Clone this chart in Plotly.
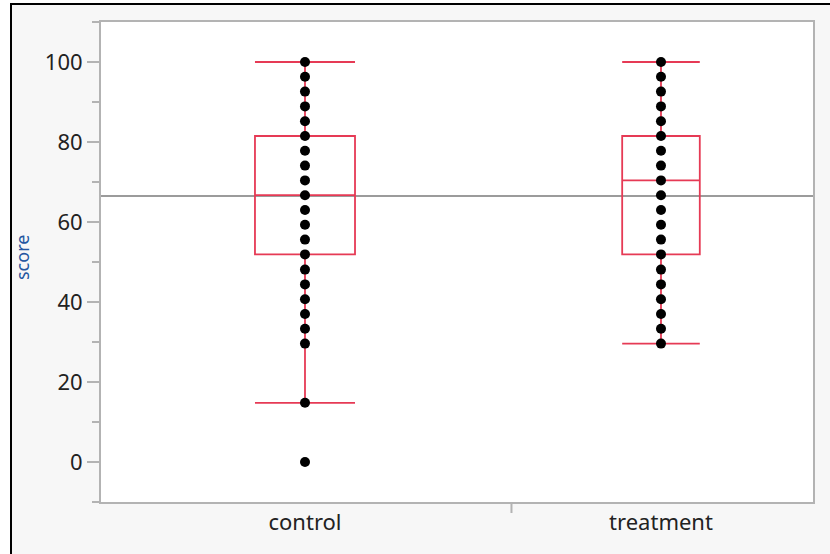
import plotly.graph_objects as go

# ---- data ----
categories = ["control", "treatment"]
control_scores = [100, 96.3, 92.6, 88.9, 85.2, 81.5, 77.8, 74.1, 70.4, 66.7, 63.0,
                  59.3, 55.6, 51.9, 48.1, 44.4, 40.7, 37.0, 33.3, 29.6, 14.8, 0]
treatment_scores = [100, 96.3, 92.6, 88.9, 85.2, 81.5, 77.8, 74.1, 70.4, 66.7, 63.0,
                    59.3, 55.6, 51.9, 48.1, 44.4, 40.7, 37.0, 33.3, 29.6]
q1_vals = [51.9, 51.9]
median_vals = [66.7, 70.4]
q3_vals = [81.5, 81.5]
lower_whisker = [14.8, 29.6]
upper_whisker = [100, 100]
grand_mean = 66.5
y_tick_vals = [0, 20, 40, 60, 80, 100]
y_title = "score"

# ---- layout constants ----
W, H = 830, 554
ML, MR, MT, MB = 101, 17, 22, 52
PW, PH = W - ML - MR, H - MT - MB
box_widths = [0.281, 0.218]
x_range = [-0.573, 1.427]
divider_x = 0.58
RED = "#e63a55"
AXIS_GRAY = "#b3b3b3"
FONT = "Noto Sans"


def px_x(p):
    return (p - ML) / PW


def px_y(p):
    return (H - MB - p) / PH


fig = go.Figure()

# dots
for cat, vals in zip(categories, [control_scores, treatment_scores]):
    fig.add_trace(go.Scatter(
        x=[cat] * len(vals), y=vals, mode="markers",
        marker=dict(color="black", size=10, line=dict(width=0)),
        showlegend=False, hoverinfo="y"))

# boxes
for i, cat in enumerate(categories):
    fig.add_trace(go.Box(
        x=[cat], q1=[q1_vals[i]], median=[median_vals[i]], q3=[q3_vals[i]],
        lowerfence=[lower_whisker[i]], upperfence=[upper_whisker[i]],
        boxpoints=False, width=box_widths[i], whiskerwidth=1,
        fillcolor="rgba(0,0,0,0)", line=dict(color=RED, width=1.8),
        showlegend=False))

shapes = [
    # grand mean line
    dict(type="line", xref="paper", x0=0, x1=1, yref="y", y0=grand_mean, y1=grand_mean,
         line=dict(color="#7a7a7a", width=1.5), layer="below"),
    # divider tick between categories
    dict(type="line", xref="x", x0=divider_x, x1=divider_x, yref="paper",
         y0=0, y1=px_y(513), line=dict(color=AXIS_GRAY, width=2)),
    # outer white strips + black frame lines (top and left)
    dict(type="rect", xref="paper", yref="paper", x0=px_x(0), x1=px_x(W),
         y0=px_y(3), y1=px_y(0), fillcolor="white", line=dict(width=0)),
    dict(type="rect", xref="paper", yref="paper", x0=px_x(0), x1=px_x(10),
         y0=px_y(H), y1=px_y(0), fillcolor="white", line=dict(width=0)),
    dict(type="rect", xref="paper", yref="paper", x0=px_x(10), x1=px_x(W),
         y0=px_y(5), y1=px_y(3), fillcolor="black", line=dict(width=0)),
    dict(type="rect", xref="paper", yref="paper", x0=px_x(10), x1=px_x(12),
         y0=px_y(H), y1=px_y(3), fillcolor="black", line=dict(width=0)),
]

annotations = [
    dict(text=y_title, textangle=-90, xref="paper", yref="paper",
         x=px_x(22), y=px_y(258), xanchor="center", yanchor="middle",
         showarrow=False, font=dict(family=FONT, size=18, color="#2456a0")),
]

fig.update_layout(
    width=W, height=H,
    margin=dict(l=ML, r=MR, t=MT, b=MB),
    paper_bgcolor="#f7f7f7", plot_bgcolor="white",
    font=dict(family=FONT, size=22, color="#222222"),
    boxmode="overlay",
    shapes=shapes, annotations=annotations,
    xaxis=dict(type="category", range=x_range, showgrid=False, zeroline=False,
               showline=True, linecolor=AXIS_GRAY, linewidth=2, mirror=True,
               ticks="", tickfont=dict(size=22)),
    yaxis=dict(range=[-10, 110], tickvals=y_tick_vals, showgrid=False, zeroline=False,
               showline=True, linecolor=AXIS_GRAY, linewidth=2, mirror=True,
               ticks="outside", ticklen=12, tickwidth=2, tickcolor=AXIS_GRAY,
               tickfont=dict(size=22),
               minor=dict(dtick=10, tick0=0, ticks="outside", ticklen=7,
                          tickwidth=2, tickcolor=AXIS_GRAY)),
)

fig.write_html("out.html")
